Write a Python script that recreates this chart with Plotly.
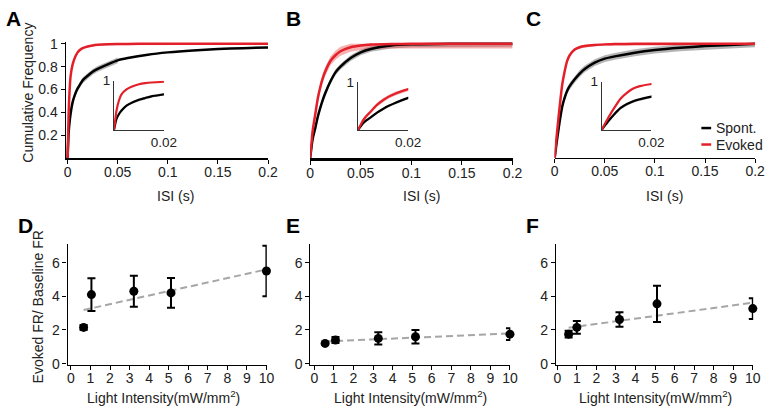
import numpy as np
import plotly.graph_objects as go

# ---------------- data ----------------
isi = [0, 0.001, 0.002, 0.003, 0.005, 0.0075, 0.01, 0.0125, 0.015, 0.02, 0.025,
       0.03, 0.04, 0.05, 0.06, 0.08, 0.1, 0.125, 0.15, 0.175, 0.2]

A_spont = [0, 0.22, 0.32, 0.39, 0.49, 0.56, 0.61, 0.645, 0.68, 0.72, 0.755,
           0.78, 0.82, 0.855, 0.875, 0.905, 0.925, 0.942, 0.954, 0.962, 0.968]
A_evoked = [0, 0.39, 0.6, 0.72, 0.82, 0.885, 0.925, 0.948, 0.962, 0.977, 0.986,
            0.991, 0.996, 0.998, 0.999, 1, 1, 1, 1, 1, 1]
B_spont = [0, 0.07, 0.14, 0.19, 0.26, 0.36, 0.44, 0.51, 0.57, 0.67, 0.75,
           0.8, 0.875, 0.925, 0.955, 0.985, 0.995, 0.999, 1, 1, 1]
B_evoked = [0, 0.1, 0.2, 0.27, 0.38, 0.52, 0.62, 0.7, 0.76, 0.85, 0.9,
            0.935, 0.97, 0.985, 0.993, 0.998, 1, 1, 1, 1, 1]
C_spont = [0, 0.07, 0.135, 0.2, 0.32, 0.45, 0.53, 0.59, 0.63, 0.69, 0.74,
           0.78, 0.835, 0.87, 0.89, 0.922, 0.945, 0.965, 0.98, 0.99, 1.0]
C_evoked = [0, 0.1, 0.19, 0.28, 0.45, 0.64, 0.76, 0.85, 0.9, 0.95, 0.97,
            0.98, 0.99, 0.995, 0.998, 1, 1, 1, 1, 1, 1]

# half-widths of the shaded SEM bands
band_spont = {"A": 0.025, "B": 0.025, "C": 0.03}
band_evoked = {"A": 0.008, "B": 0.04, "C": 0.012}
band_end_A_spont = 0.05

D_light = [0.65, 1.05, 3.22, 5.12, 10.0]
D_ratio = [2.15, 4.1, 4.3, 4.2, 5.5]
D_err = [0.15, 0.97, 0.92, 0.88, 1.5]
E_light = [0.55, 1.08, 3.27, 5.17, 10.0]
E_ratio = [1.2, 1.4, 1.5, 1.6, 1.75]
E_err = [0.05, 0.18, 0.37, 0.4, 0.35]
F_light = [0.58, 1.0, 3.18, 5.1, 10.0]
F_ratio = [1.75, 2.15, 2.62, 3.55, 3.27]
F_err = [0.2, 0.38, 0.43, 1.08, 0.62]

isi_ticks = [0, 0.05, 0.1, 0.15, 0.2]
isi_ticklabels = ["0", "0.05", "0.1", "0.15", "0.2"]
cdf_ticks = [0.2, 0.4, 0.6, 0.8, 1]
cdf_ticklabels = ["0.2", "0.4", "0.6", "0.8", "1"]
light_ticks = list(range(11))
ratio_ticks = [0, 2, 4, 6]

# ---------------- layout helpers ----------------
W, H = 775, 412
FONT = "Liberation Sans, Arial, sans-serif"
RED = "#e3202a"
TICKC = "#222222"


def fx(px):
    return px / W


def fy(py):
    return 1 - py / H


fig = go.Figure()


def band_trace(x, y, hw, color, xa, ya, xmax=None):
    xs = [v for v in x if xmax is None or v <= xmax]
    n = len(xs)
    up = [min(1.0, v + hw) for v in y[:n]]
    lo = [max(0.0, v - hw) for v in y[:n]]
    fig.add_trace(go.Scatter(x=xs + xs[::-1], y=up + lo[::-1], fill="toself",
                             fillcolor=color, line=dict(width=0), mode="lines",
                             hoverinfo="skip", showlegend=False, xaxis=xa, yaxis=ya))


def line_trace(x, y, color, xa, ya, w=2.5):
    fig.add_trace(go.Scatter(x=x, y=y, mode="lines",
                             line=dict(color=color, width=w, shape="spline", smoothing=0.6),
                             showlegend=False, xaxis=xa, yaxis=ya))


panels = {"A": (A_spont, A_evoked), "B": (B_spont, B_evoked), "C": (C_spont, C_evoked)}
main_ax = {"A": ("x", "y"), "B": ("x2", "y2"), "C": ("x3", "y3")}
inset_ax = {"A": ("x4", "y4"), "B": ("x5", "y5"), "C": ("x6", "y6")}

for key, (sp, ev) in panels.items():
    for (xa, ya), w in ((main_ax[key], 2.5), (inset_ax[key], 2.2)):
        xmax = band_end_A_spont if (key == "A" and xa == "x") else None
        band_trace(isi, sp, band_spont[key], "rgba(120,120,120,0.55)", xa, ya, xmax)
        band_trace(isi, ev, band_evoked[key], "rgba(235,80,80,0.45)", xa, ya)
        line_trace(isi, sp, "black", xa, ya, w)
        line_trace(isi, ev, RED, xa, ya, w)

# bottom panels
bottom = [(D_light, D_ratio, D_err, "x7", "y7"),
          (E_light, E_ratio, E_err, "x8", "y8"),
          (F_light, F_ratio, F_err, "x9", "y9")]
for lx, ry, er, xa, ya in bottom:
    slope, icpt = np.polyfit(lx, ry, 1)
    xl = [min(lx), max(lx)]
    fig.add_trace(go.Scatter(x=xl, y=[slope * v + icpt for v in xl], mode="lines",
                             line=dict(color="#a6a6a6", width=2, dash="7px,4px"),
                             showlegend=False, xaxis=xa, yaxis=ya))
    fig.add_trace(go.Scatter(x=lx, y=ry, mode="markers",
                             marker=dict(color="black", size=9),
                             error_y=dict(type="data", array=er, color="black",
                                          thickness=2, width=4),
                             cliponaxis=False, showlegend=False, xaxis=xa, yaxis=ya))

tickfont = dict(family=FONT, size=14, color=TICKC)


def xaxis_cfg(dom, rng, tickvals, ticktext=None, showline=True, lw=1.2, anchor=None):
    d = dict(domain=[fx(dom[0]), fx(dom[1])], range=rng, showgrid=False, zeroline=False,
             showline=showline, linecolor="black", linewidth=lw, ticks="outside",
             ticklen=4, tickwidth=1, tickcolor="black", tickvals=tickvals,
             tickfont=tickfont, anchor=anchor, ticklabelstandoff=-4)
    if ticktext is not None:
        d["ticktext"] = ticktext
    return d


def yaxis_cfg(dom, rng, tickvals, ticktext=None, showline=True, anchor=None, show=True):
    d = dict(domain=[fy(dom[0]), fy(dom[1])], range=rng, showgrid=False, zeroline=False,
             showline=showline, linecolor="black", linewidth=1.2,
             ticks="outside" if show else "", ticklen=4, tickwidth=1, tickcolor="black",
             tickfont=tickfont, anchor=anchor, showticklabels=show)
    if show:
        d["tickvals"] = tickvals
    if ticktext is not None:
        d["ticktext"] = ticktext
    return d


layout = dict(
    width=W, height=H, margin=dict(l=0, r=0, t=0, b=0),
    paper_bgcolor="white", plot_bgcolor="rgba(0,0,0,0)", showlegend=False,
    font=dict(family=FONT, size=14, color=TICKC),
)

cdf_ydom = (156, 156 - 1.02 * 118)
layout["xaxis"] = xaxis_cfg((63, 270), [-0.002, 0.2], isi_ticks, isi_ticklabels, lw=1.5, anchor="y")
layout["yaxis"] = yaxis_cfg(cdf_ydom, [0, 1.02], cdf_ticks, cdf_ticklabels, anchor="x")
layout["xaxis2"] = xaxis_cfg((313, 520), [0, 0.2], isi_ticks, isi_ticklabels, lw=3, anchor="y2")
layout["yaxis2"] = yaxis_cfg(cdf_ydom, [0, 1.02], [], showline=False, anchor="x2", show=False)
layout["xaxis3"] = xaxis_cfg((563, 768), [0, 0.2], isi_ticks, isi_ticklabels, lw=1.2, anchor="y3")
layout["yaxis3"] = yaxis_cfg(cdf_ydom, [0, 1.02], [], showline=False, anchor="x3", show=False)

inset_font = dict(family=FONT, size=13.5, color=TICKC)
insets = {"4": ((112.5, 163.5), (126.7, 76)),
          "5": ((361.7, 413.3), (127.3, 77.3)),
          "6": ((611, 662), (127, 77))}
for k, (xd, yd) in insets.items():
    layout["xaxis" + k] = dict(domain=[fx(xd[0]), fx(xd[1])], range=[0, 0.02], showgrid=False,
                               zeroline=False, showline=True, linecolor="#333", linewidth=1,
                               ticks="", tickvals=[0.02], ticktext=["0.02"], tickfont=inset_font,
                               anchor="y" + k)
    layout["yaxis" + k] = dict(domain=[fy(yd[0]), fy(yd[1])], range=[0, 1], showgrid=False,
                               zeroline=False, showline=True, linecolor="#333", linewidth=1,
                               ticks="", tickvals=[1], ticktext=["1"], tickfont=inset_font,
                               anchor="x" + k)

bot_ydom = (370, 244.8)
layout["xaxis7"] = xaxis_cfg((65, 268.7), [-0.17, 10.02], light_ticks, anchor="y7")
layout["yaxis7"] = yaxis_cfg(bot_ydom, [-0.1, 7.1], ratio_ticks, anchor="x7")
layout["xaxis8"] = xaxis_cfg((313.3, 517.7), [-0.2, 10.02], light_ticks, anchor="y8")
layout["yaxis8"] = yaxis_cfg(bot_ydom, [-0.1, 7.1], ratio_ticks, anchor="x8")
layout["xaxis9"] = xaxis_cfg((564.3, 766), [-0.07, 10.02], light_ticks, anchor="y9")
layout["yaxis9"] = yaxis_cfg(bot_ydom, [-0.1, 7.1], ratio_ticks, anchor="x9")

fig.update_layout(**layout)

ann = []


def add_text(text, px, py, size=14, bold=False, xanchor="center", angle=0, color=TICKC):
    ann.append(dict(text=("<b>%s</b>" % text) if bold else text, x=fx(px), y=fy(py),
                    xref="paper", yref="paper", xanchor=xanchor, yanchor="middle",
                    showarrow=False, textangle=angle,
                    font=dict(family=FONT, size=size, color=color)))


for letter, px, py in (("A", 0, 12), ("B", 286, 12), ("C", 532, 12),
                       ("D", 12, 226), ("E", 286, 226), ("F", 532, 226)):
    add_text(letter, px, py, size=21, bold=True, xanchor="left", color="black")

for cx in (175, 427, 675):
    add_text("ISI (s)", cx, 195)
for cx in (163, 416, 666):
    add_text("Light Intensity(mW/mm<sup>2</sup>)", cx, 403)
add_text("Cumulative Frequency", 25, 88, angle=-90)
add_text("Evoked FR/ Baseline FR", 35, 310, angle=-90)

# legend (panel C)
add_text("Spont.", 726, 125, xanchor="left")
add_text("Evoked", 726, 142, xanchor="left")
shapes = [
    dict(type="line", xref="paper", yref="paper", x0=fx(713), x1=fx(723), y0=fy(125), y1=fy(125),
         line=dict(color="black", width=2.5)),
    dict(type="line", xref="paper", yref="paper", x0=fx(713), x1=fx(723), y0=fy(142), y1=fy(142),
         line=dict(color=RED, width=2.5)),
]

fig.update_layout(annotations=ann, shapes=shapes)
fig.write_html("out.html", config={"displayModeBar": False},
               post_script="document.body.style.margin='0';document.body.style.overflow='hidden';")
